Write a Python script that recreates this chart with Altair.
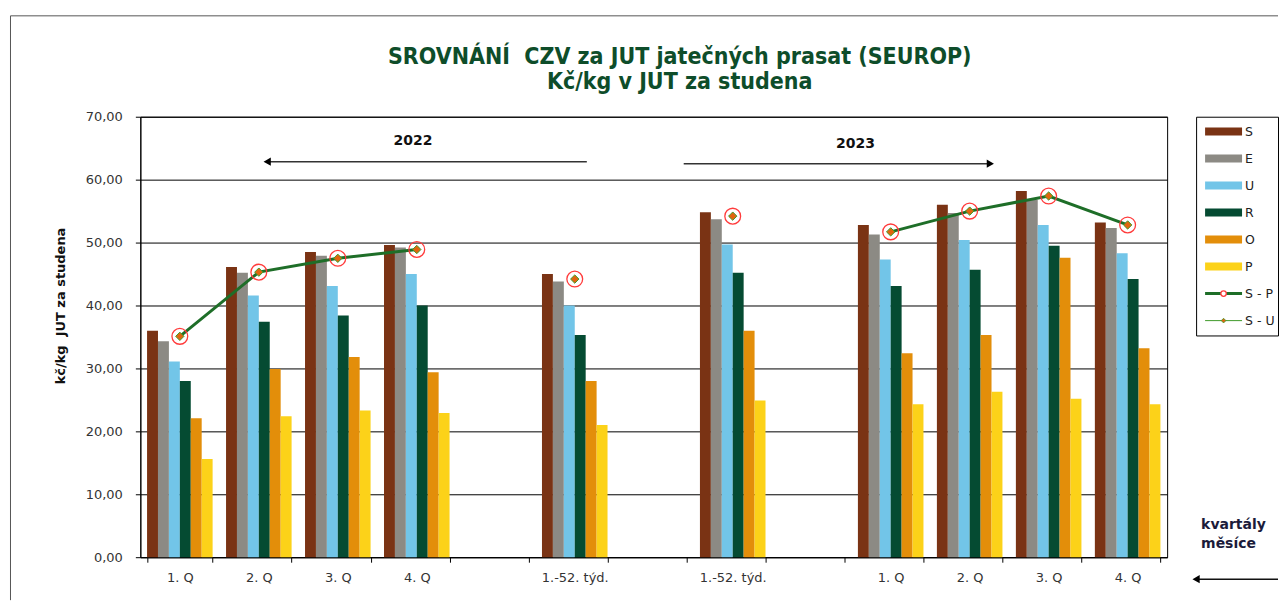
import altair as alt
import pandas as pd

# ---------------- data ----------------
categories = ["1. Q|2022", "2. Q|2022", "3. Q|2022", "4. Q|2022", " |a",
              "1.-52. týd.|2022", " |b", "1.-52. týd.|2023", " |c",
              "1. Q|2023", "2. Q|2023", "3. Q|2023", "4. Q|2023"]
data_cats = ["1. Q|2022", "2. Q|2022", "3. Q|2022", "4. Q|2022",
             "1.-52. týd.|2022", "1.-52. týd.|2023",
             "1. Q|2023", "2. Q|2023", "3. Q|2023", "4. Q|2023"]
series = ["S", "E", "U", "R", "O", "P"]
colors = ["#7a3314", "#8c8a84", "#72c5e8", "#054b32", "#e38e0a", "#fcd219"]

S_vals = [36.0, 46.1, 48.5, 49.6, 45.0, 54.8, 52.8, 56.0, 58.2, 53.2]
E_vals = [34.3, 45.2, 47.9, 49.2, 43.8, 53.7, 51.3, 54.7, 56.8, 52.3]
U_vals = [31.1, 41.6, 43.1, 45.0, 40.0, 49.7, 47.3, 50.4, 52.8, 48.3]
R_vals = [28.0, 37.4, 38.4, 40.0, 35.3, 45.2, 43.1, 45.7, 49.5, 44.2]
O_vals = [22.1, 29.9, 31.8, 29.4, 28.0, 36.0, 32.4, 35.3, 47.6, 33.2]
P_vals = [15.6, 22.4, 23.3, 22.9, 21.0, 24.9, 24.3, 26.3, 25.2, 24.3]
SP_vals = [35.1, 45.3, 47.5, 48.9, 44.2, 54.2, 51.7, 55.0, 57.4, 52.8]
SU_vals = [35.1, 45.3, 47.5, 48.9, 44.2, 54.2, 51.7, 55.0, 57.4, 52.8]
segments = ["2022Q", "2022Q", "2022Q", "2022Q", "2022Y", "2023Y",
            "2023Q", "2023Q", "2023Q", "2023Q"]

legend_names = series + ["S - P", "S - U"]
title_lines = ["SROVNÁNÍ \u00a0CZV za JUT jatečných prasat (SEUROP)", "Kč/kg v JUT za studena"]
y_title = "kč/kg \u00a0JUT za studena"
year_labels = ["2022", "2023"]
axis_note = ["kvartály", "měsíce"]

vals = dict(zip(series, [S_vals, E_vals, U_vals, R_vals, O_vals, P_vals]))
bars_df = pd.DataFrame([{"cat": c, "series": s, "value": v}
                        for s in series for c, v in zip(data_cats, vals[s])])
line_df = pd.DataFrame({"cat": data_cats, "sp": SP_vals, "su": SU_vals, "seg": segments})

FONT = "DejaVu Sans"
W, H = 1028, 441

x_scale = alt.Scale(domain=categories, paddingInner=0.17, paddingOuter=0.085)
x_axis = alt.Axis(title=None, labelExpr="split(datum.label, '|')[0]", labelAngle=0,
                  tickBand="extent", tickSize=5, tickColor="black", domainColor="black",
                  labelFont=FONT, labelFontSize=13, labelColor="#333", labelPadding=9,
                  grid=False)
y_scale = alt.Scale(domain=[0, 70])
y_axis = alt.Axis(title=y_title, values=list(range(0, 71, 10)),
                  labelExpr="replace(format(datum.value, '.2f'), '.', ',')",
                  grid=True, gridColor="black", gridWidth=1, gridOpacity=1,
                  domainColor="black", tickColor="black", tickSize=5, labelPadding=13,
                  labelFont=FONT, labelFontSize=13, labelColor="#333",
                  titleFont=FONT, titleFontSize=13, titleFontWeight="bold", titleColor="#111",
                  titleAngle=270, titleX=-80, titleY=189, titleAlign="center",
                  titleBaseline="middle")

bars = alt.Chart(bars_df).mark_bar().encode(
    x=alt.X("cat:N", scale=x_scale, axis=x_axis),
    xOffset=alt.XOffset("series:N", scale=alt.Scale(domain=series, paddingInner=0, paddingOuter=0)),
    y=alt.Y("value:Q", scale=y_scale, axis=y_axis),
    color=alt.Color("series:N", scale=alt.Scale(domain=series, range=colors), legend=None),
)

lx = alt.X("cat:N", scale=x_scale)
sp_line = alt.Chart(line_df).mark_line(color="#1e6e28", strokeWidth=3).encode(
    x=lx, y=alt.Y("sp:Q", scale=y_scale), detail="seg:N")
su_line = alt.Chart(line_df).mark_line(color="#3f9a2a", strokeWidth=1).encode(
    x=lx, y=alt.Y("su:Q", scale=y_scale), detail="seg:N")
sp_pts = alt.Chart(line_df).mark_point(shape="circle", size=250, filled=False,
                                       stroke="#ff3b3b", strokeWidth=1.3, opacity=1).encode(
    x=lx, y=alt.Y("sp:Q", scale=y_scale))
su_pts = alt.Chart(line_df).mark_point(shape="diamond", size=70, filled=True, fill="#e0650e",
                                       stroke="#3f9a2a", strokeWidth=1, opacity=1).encode(
    x=lx, y=alt.Y("su:Q", scale=y_scale))


def note(text, x, y, **kw):
    return alt.Chart(pd.DataFrame({"t": [text]})).mark_text(**kw).encode(
        x=alt.value(x), y=alt.value(y), text="t:N")


def hline(x1, x2, y, color="#333", width=1.5):
    return alt.Chart(pd.DataFrame({"t": [0]})).mark_rule(color=color, strokeWidth=width).encode(
        x=alt.value(x1), x2=alt.value(x2), y=alt.value(y))


def head(x, y, shape):
    return alt.Chart(pd.DataFrame({"t": [0]})).mark_point(
        shape=shape, size=70, filled=True, color="black", opacity=1).encode(
        x=alt.value(x), y=alt.value(y))


ann = [
    note(year_labels[0], 273, 24, font=FONT, fontSize=14, fontWeight="bold", color="#111"),
    hline(126, 447, 45), head(127, 45, "triangle-left"),
    note(year_labels[1], 716, 27, font=FONT, fontSize=14, fontWeight="bold", color="#111"),
    hline(544, 852, 47), head(851, 47, "triangle-right"),
    note(axis_note[0], 1062, 409, font=FONT, fontSize=14, fontWeight="bold", color="#1b1b3a", align="left"),
    note(axis_note[1], 1062, 428, font=FONT, fontSize=14, fontWeight="bold", color="#1b1b3a", align="left"),
    hline(1056, 1139, 463, color="#111"), head(1057, 463, "triangle-left"),
]

main = alt.layer(bars, su_line, sp_line, sp_pts, su_pts, *ann).properties(
    width=W, height=H,
    title=alt.TitleParams(text=title_lines, font="DejaVu Sans Condensed", fontSize=23,
                          fontWeight="bold", color="#0e4d2a", anchor="middle", frame="group",
                          dx=26, offset=17, lineHeight=25),
)

# ---------------- legend panel ----------------
leg_df = pd.DataFrame({"name": legend_names})
ly = alt.Y("name:N", scale=alt.Scale(type="point", domain=legend_names, padding=0.55), axis=None)
leg_base = alt.Chart(leg_df)
leg_bars = leg_base.transform_filter(alt.FieldOneOfPredicate(field="name", oneOf=series)).mark_rule(
    strokeWidth=8).encode(x=alt.value(9), x2=alt.value(46), y=ly,
                          color=alt.Color("name:N", scale=alt.Scale(domain=series, range=colors), legend=None))
leg_sp = leg_base.transform_filter("datum.name == 'S - P'").mark_rule(
    color="#1e6e28", strokeWidth=3).encode(x=alt.value(9), x2=alt.value(46), y=ly)
leg_sp_pt = leg_base.transform_filter("datum.name == 'S - P'").mark_point(
    shape="circle", size=30, filled=True, fill="white", stroke="#ff3b3b", strokeWidth=1.3, opacity=1).encode(
    x=alt.value(27.5), y=ly)
leg_su = leg_base.transform_filter("datum.name == 'S - U'").mark_rule(
    color="#3f9a2a", strokeWidth=1).encode(x=alt.value(9), x2=alt.value(46), y=ly)
leg_su_pt = leg_base.transform_filter("datum.name == 'S - U'").mark_point(
    shape="diamond", size=22, filled=True, fill="#e0650e", stroke="#3f9a2a", strokeWidth=0.8, opacity=1).encode(
    x=alt.value(27.5), y=ly)
leg_txt = leg_base.mark_text(align="left", baseline="middle", font=FONT, fontSize=12.5, color="#222").encode(
    x=alt.value(49), y=ly, text="name:N")

frame_v = alt.Chart(pd.DataFrame({"t": [0]})).mark_rule(color="#555", strokeWidth=1).encode(
    x=alt.value(-1187), y=alt.value(-101), y2=alt.value(484))
frame_h = alt.Chart(pd.DataFrame({"t": [0]})).mark_rule(color="#555", strokeWidth=1).encode(
    x=alt.value(-1187), x2=alt.value(82), y=alt.value(-101))

legend = alt.layer(leg_bars, leg_sp, leg_sp_pt, leg_su, leg_su_pt, leg_txt, frame_v, frame_h).properties(
    width=82, height=219)

chart = alt.hconcat(main, legend, spacing=29, bounds="flush").resolve_scale(
    color="independent", y="independent", x="independent").properties(
    padding={"left": 1.5, "top": 6.5, "right": 0, "bottom": 0}).configure_view(
    stroke="black", strokeWidth=1)

chart.save("out.html", embed_options={"renderer": "svg", "actions": False})
